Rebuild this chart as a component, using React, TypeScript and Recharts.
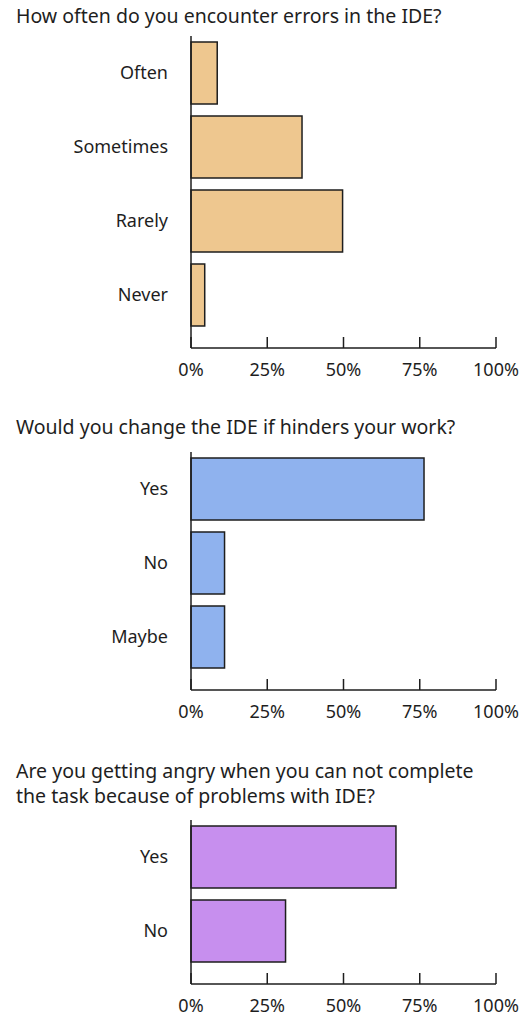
import { BarChart, Bar, XAxis, YAxis } from "recharts";

const errorCategories = ["Often", "Sometimes", "Rarely", "Never"];
const errorValues = [8.6, 36.4, 49.7, 4.5];

const changeCategories = ["Yes", "No", "Maybe"];
const changeValues = [76.4, 11, 11];

const angryCategories = ["Yes", "No"];
const angryValues = [67.2, 31];

const percentTicks = [0, 25, 50, 75, 100];

const FONT = "'Noto Sans', sans-serif";
const INK = "#1e1e1e";

const toRows = (cats: string[], vals: number[]) => cats.map((name, i) => ({ name, value: vals[i] }));

type PanelProps = {
  title: string[];
  titleTop: number;
  top: number;
  axisY: number;
  rows: { name: string; value: number }[];
  color: string;
};

const Panel = ({ title, titleTop, top, axisY, rows, color }: PanelProps) => {
  const height = axisY - top + 40;
  return (
    <>
      <div
        style={{
          position: "absolute",
          left: 16,
          top: titleTop,
          fontSize: 19.5,
          lineHeight: "25px",
          color: INK,
          fontFamily: FONT,
          whiteSpace: "nowrap",
        }}
      >
        {title.map((line) => (
          <div key={line}>{line}</div>
        ))}
      </div>
      <div style={{ position: "absolute", left: 0, top }}>
        <BarChart
          width={526}
          height={height}
          data={rows}
          layout="vertical"
          margin={{ top: 0, right: 30, left: 0, bottom: 0 }}
        >
          <XAxis
            type="number"
            domain={[0, 100]}
            ticks={percentTicks}
            tickFormatter={(v) => `${v}%`}
            height={40}
            tickSize={-11}
            tickMargin={26}
            axisLine={{ stroke: INK, strokeWidth: 1.5 }}
            tickLine={{ stroke: INK, strokeWidth: 1.5 }}
            tick={{ fill: INK, fontSize: 18, fontFamily: FONT }}
          />
          <YAxis
            type="category"
            dataKey="name"
            width={191}
            tickSize={0}
            tickMargin={23}
            padding={{ top: 0, bottom: 16 }}
            axisLine={{ stroke: INK, strokeWidth: 1.5 }}
            tickLine={false}
            tick={{ fill: INK, fontSize: 18, fontFamily: FONT }}
          />
          <Bar dataKey="value" barSize={62} fill={color} stroke={INK} strokeWidth={1.5} isAnimationActive={false} />
        </BarChart>
      </div>
    </>
  );
};

export default function App() {
  return (
    <div style={{ position: "absolute", left: 0, top: 0, width: 526, height: 1015, background: "#fff" }}>
      <Panel
        title={["How often do you encounter errors in the IDE?"]}
        titleTop={3}
        top={36}
        axisY={348}
        rows={toRows(errorCategories, errorValues)}
        color="#eec78f"
      />
      <Panel
        title={["Would you change the IDE if hinders your work?"]}
        titleTop={414}
        top={452}
        axisY={690}
        rows={toRows(changeCategories, changeValues)}
        color="#8fb2ee"
      />
      <Panel
        title={["Are you getting angry when you can not complete", "the task because of problems with IDE?"]}
        titleTop={758}
        top={819.5}
        axisY={983.5}
        rows={toRows(angryCategories, angryValues)}
        color="#c78fee"
      />
    </div>
  );
}
